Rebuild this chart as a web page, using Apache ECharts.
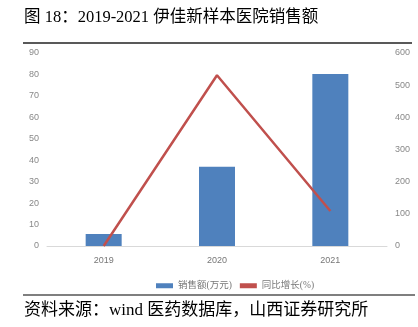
<!DOCTYPE html>
<html><head><meta charset="utf-8">
<script src="https://cdn.jsdelivr.net/npm/echarts@6/dist/echarts.min.js"></script>
<style>html,body{margin:0;padding:0;background:#fff}#c{width:418px;height:327px}</style>
</head><body><div id="c"></div>
<script>
const categories = ['2019', '2020', '2021'];
const salesValues = [5.6, 37, 80.2];
const growthValues = [0, 531, 109];
const leftTicks = {min: 0, max: 90, interval: 10};
const rightTicks = {min: 0, max: 600, interval: 100};

const chart = echarts.init(document.getElementById('c'));
const serif = '"Liberation Serif", "Noto Sans CJK SC", serif';
chart.setOption({
  animation: false,
  backgroundColor: '#fff',
  graphic: [
    {type: 'text', left: 24, top: 9, style: {text: '图 18：2019-2021 伊佳新样本医院销售额', font: '16.5px ' + serif, fill: '#000'}},
    {type: 'line', shape: {x1: 23, y1: 43, x2: 412, y2: 43}, style: {stroke: '#222', lineWidth: 1.5}},
    {type: 'line', shape: {x1: 23, y1: 295, x2: 415, y2: 295}, style: {stroke: '#555', lineWidth: 1.5}},
    {type: 'text', left: 24, top: 302, style: {text: '资料来源：wind 医药数据库，山西证券研究所', font: '17px ' + serif, fill: '#000'}}
  ],
  grid: {left: 47, right: 31, top: 53, bottom: 81},
  legend: {
    top: 276, left: 151,
    itemWidth: 17, itemHeight: 5, itemGap: 8,
    textStyle: {color: '#777', fontSize: 9.5, fontFamily: serif},
    data: [
      {name: '销售额(万元)', icon: 'rect'},
      {name: '同比增长(%)', icon: 'rect'}
    ]
  },
  xAxis: {
    type: 'category', data: categories,
    axisLine: {lineStyle: {color: '#d9d9d9'}},
    axisTick: {show: false},
    axisLabel: {color: '#777', fontSize: 9, margin: 10}
  },
  yAxis: [
    {type: 'value', min: leftTicks.min, max: leftTicks.max, interval: leftTicks.interval,
     splitLine: {show: false}, axisLine: {show: false}, axisTick: {show: false},
     axisLabel: {color: '#888', fontSize: 9, margin: 8}},
    {type: 'value', min: rightTicks.min, max: rightTicks.max, interval: rightTicks.interval,
     splitLine: {show: false}, axisLine: {show: false}, axisTick: {show: false},
     axisLabel: {color: '#888', fontSize: 9, margin: 8}}
  ],
  series: [
    {name: '销售额(万元)', type: 'bar', data: salesValues, barWidth: 36, yAxisIndex: 0,
     itemStyle: {color: '#4F81BD'}},
    {name: '同比增长(%)', type: 'line', data: growthValues, yAxisIndex: 1,
     symbol: 'none', lineStyle: {color: '#C0504D', width: 2.5}, itemStyle: {color: '#C0504D'}}
  ]
});
</script></body></html>
